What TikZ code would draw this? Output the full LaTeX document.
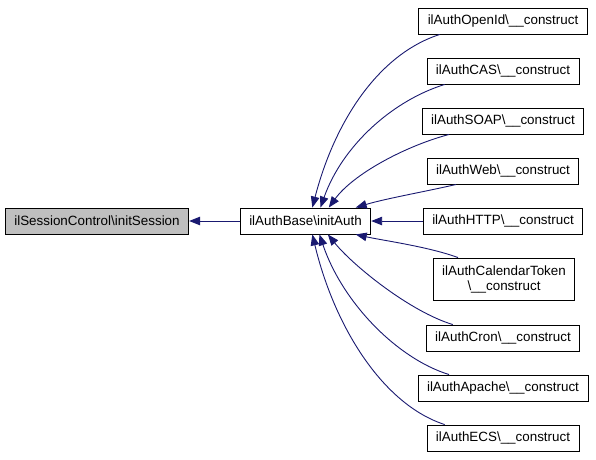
\documentclass[tikz,border=0pt]{standalone}
\usepackage{fontspec}
\setmainfont{Liberation Sans}
\usetikzlibrary{arrows.meta}
\definecolor{edgeblue}{HTML}{191970}
\definecolor{greyfill}{HTML}{BFBFBF}
\tikzset{
  box/.style={draw=black, line width=0.9pt, fill=white, minimum height=26pt, inner xsep=9pt, inner ysep=3pt,
    font=\fontsize{13.4}{15}\selectfont, text=black},
  arr/.style={draw=edgeblue, line width=0.9pt, -{Triangle[length=11pt,width=8.5pt]}},
}
\begin{document}
\begin{tikzpicture}[x=1pt,y=-1pt]
\useasboundingbox (0,0) rectangle (596,459);
\node[box, fill=greyfill] (sess) at (97,221) {ilSessionControl\textbackslash initSession};
\node[box] (base) at (305.5,221) {ilAuthBase\textbackslash initAuth};
\node[box] (openid) at (503,21) {ilAuthOpenId\textbackslash\_\_construct};
\node[box] (cas) at (503,71) {ilAuthCAS\textbackslash\_\_construct};
\node[box] (soap) at (503,121) {ilAuthSOAP\textbackslash\_\_construct};
\node[box] (web) at (503,171) {ilAuthWeb\textbackslash\_\_construct};
\node[box] (http) at (503,221) {ilAuthHTTP\textbackslash\_\_construct};
\node[box, align=center, minimum height=42pt] (cal) at (504,279) {ilAuthCalendarToken\\\textbackslash\_\_construct};
\node[box] (cron) at (503,338) {ilAuthCron\textbackslash\_\_construct};
\node[box] (apache) at (503,388) {ilAuthApache\textbackslash\_\_construct};
\node[box] (ecs) at (503,438) {ilAuthECS\textbackslash\_\_construct};

\draw[arr] (base.west) -- (sess.east);
\draw[arr] (openid.192) .. controls +(-62,20) and +(22,-85) .. (base.63);
\draw[arr] (cas.193) .. controls +(-52,16) and +(22,-62) .. (base.42);
\draw[arr] (soap.194) .. controls +(-45,12) and +(24,-33) .. (base.30);
\draw[arr] (web.196) .. controls +(-30,7) and +(30,-9) .. (base.15);
\draw[arr] (http.west) -- (base.east);
\draw[arr] (cal.155) .. controls +(-30,-11) and +(27,6) .. (base.-15);
\draw[arr] (cron.165) .. controls +(-43,-13) and +(25,31) .. (base.-31);
\draw[arr] (apache.166) .. controls +(-52,-16) and +(23,68) .. (base.-44);
\draw[arr] (ecs.167) .. controls +(-62,-20) and +(22,92) .. (base.-63);
\end{tikzpicture}
\end{document}
